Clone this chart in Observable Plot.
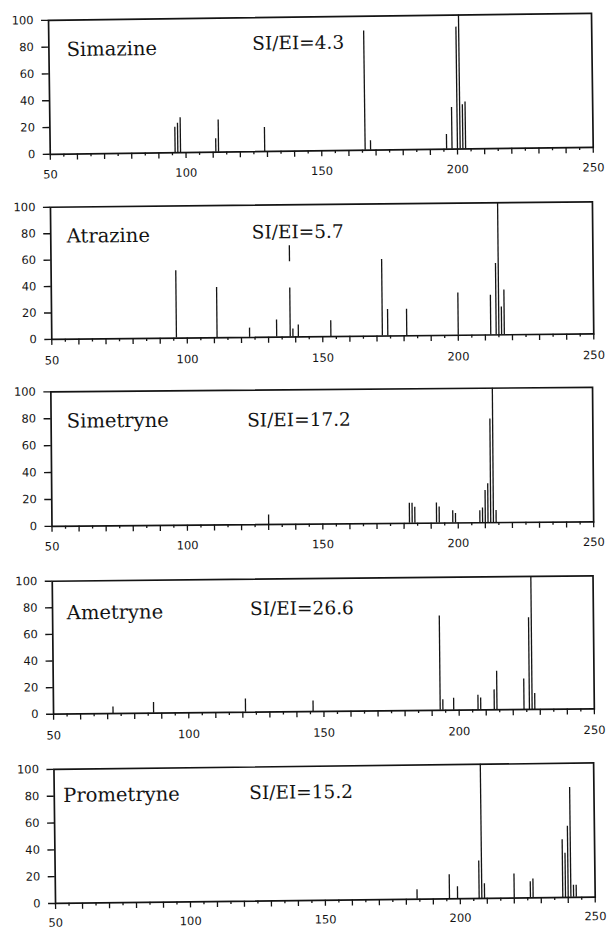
<!DOCTYPE html>
<html><head><meta charset="utf-8">
<script src="https://cdn.jsdelivr.net/npm/d3@7"></script>
<script src="https://cdn.jsdelivr.net/npm/@observablehq/plot@0.6"></script>
<style>
html,body{margin:0;padding:0;background:#fff;overflow:hidden}
#chart{width:612px;height:929px;position:relative;overflow:hidden}
#chart svg{display:block}
</style></head><body><div id="chart"></div>
<script>
// ---- data ----
const compounds = ["Simazine", "Atrazine", "Simetryne", "Ametryne", "Prometryne"];
const siEiLabels = ["SI/EI=4.3", "SI/EI=5.7", "SI/EI=17.2", "SI/EI=26.6", "SI/EI=15.2"];
const xTickLabels = [50, 100, 150, 200, 250];
const yTickLabels = [0, 20, 40, 60, 80, 100];

const simazineMz  = [96, 97, 98, 111, 112, 129, 166, 168, 196, 198, 200, 201, 202, 203];
const simazineInt = [19, 22, 26, 10, 24, 18, 89, 7, 11, 31, 91, 100, 33, 35];

const atrazineMz  = [96, 111, 123, 133, 138, 139, 141, 153, 172, 174, 181, 200, 212, 214, 215, 216, 217];
const atrazineInt = [51, 38, 7, 13, 37, 6, 9, 12, 58, 20, 20, 32, 30, 54, 100, 21, 34];
// detached segment drawn above the m/z 138 line
const atrazineSegMz = [138];
const atrazineSegLow = [57];
const atrazineSegHigh = [69];

const simetryneMz  = [130, 182, 183, 184, 192, 193, 198, 199, 208, 209, 210, 211, 212, 213, 214];
const simetryneInt = [7, 15, 15, 12, 15, 12, 9, 7, 9, 11, 24, 29, 77, 100, 9];

const ametryneMz  = [72, 87, 121, 146, 193, 194, 198, 207, 208, 213, 214, 224, 226, 227, 228];
const ametryneInt = [5, 8, 10, 8, 71, 8, 9, 11, 9, 15, 29, 23, 69, 100, 12];

const prometryneMz  = [184, 196, 199, 207, 208, 209, 220, 226, 227, 238, 239, 240, 241, 242, 243];
const prometryneInt = [7, 18, 9, 28, 100, 11, 18, 12, 14, 43, 33, 53, 82, 9, 9];

const seriesMz  = [simazineMz, atrazineMz, simetryneMz, ametryneMz, prometryneMz];
const seriesInt = [simazineInt, atrazineInt, simetryneInt, ametryneInt, prometryneInt];

// ---- layout (pixels) ----
const layout = [
  {h: 187, mt: 16.5, mb: 36.5, ml: 49.0, mr: 20.0, rot: 0.74, nameDx: 17.7, nameDy: 36.0, siDx: 203.3, siDy: 32.0, pad: 16},
  {h: 186, mt: 17.2, mb: 36.7, ml: 50.7, mr: 19.3, rot: 0.58, nameDx: 16.0, nameDy: 35.5, siDx: 201.0, siDy: 33.3, pad: 17},
  {h: 189, mt: 16.2, mb: 38.3, ml: 51.0, mr: 19.3, rot: 0.48, nameDx: 15.7, nameDy: 35.9, siDx: 196.0, siDy: 36.3, pad: 16},
  {h: 188, mt: 16.2, mb: 38.8, ml: 52.5, mr: 18.7, rot: 0.57, nameDx: 14.2, nameDy: 38.2, siDx: 197.5, siDy: 35.8, pad: 17},
  {h: 179, mt: 15.9, mb: 29.0, ml: 54.3, mr: 18.0, rot: 0.68, nameDx: 9.0,  nameDy: 32.6, siDx: 195.0, siDy: 32.0, pad: 15}
];

const majorTicks = d3.range(50, 251, 10);
const minorTicks = d3.range(55, 250, 10);
const ink = "#141414";

const chart = document.getElementById("chart");

compounds.forEach((name, i) => {
  const L = layout[i];
  const peaks = seriesMz[i].map((m, j) => ({mz: m, intensity: seriesInt[i][j]}));
  const marks = [
    Plot.ruleX(peaks, {x: "mz", y1: 0, y2: "intensity", stroke: ink, strokeWidth: 1.3}),
  ];
  if (i === 1) {
    const seg = atrazineSegMz.map((m, j) => ({mz: m, low: atrazineSegLow[j], high: atrazineSegHigh[j]}));
    marks.push(Plot.ruleX(seg, {x: "mz", y1: "low", y2: "high", stroke: ink, strokeWidth: 1.3}));
  }
  marks.push(
    Plot.frame({stroke: ink, strokeWidth: 1.7}),
    Plot.axisX({ticks: minorTicks, tickSize: 3, tickFormat: () => "", stroke: ink, strokeWidth: 1.3, label: null}),
    Plot.axisX({ticks: majorTicks, tickSize: 6, tickFormat: () => "", stroke: ink, strokeWidth: 1.3, label: null}),
    Plot.axisX({ticks: xTickLabels, tickSize: 0, tickPadding: L.pad, fill: ink, label: null}),
    Plot.axisY({ticks: yTickLabels, tickSize: 7, tickPadding: 8, stroke: ink, strokeWidth: 1.4, fill: ink, label: null}),
    Plot.text([name], {frameAnchor: "top-left", dx: L.nameDx, dy: L.nameDy, text: d => d,
      textAnchor: "start", lineAnchor: "bottom", fontSize: 19.5, fontFamily: "DejaVu Serif", fill: ink}),
    Plot.text([siEiLabels[i]], {frameAnchor: "top-left", dx: L.siDx, dy: L.siDy, text: d => d,
      textAnchor: "start", lineAnchor: "bottom", fontSize: 18.5, fontFamily: "DejaVu Serif", fill: ink})
  );
  const svg = Plot.plot({
    width: 612,
    height: L.h,
    marginTop: L.mt, marginBottom: L.mb, marginLeft: L.ml, marginRight: L.mr,
    x: {domain: [50, 250], label: null},
    y: {domain: [0, 100], label: null},
    style: {fontFamily: "DejaVu Sans", fontSize: "11.5px", background: "white", color: ink, overflow: "visible"},
    marks
  });
  svg.style.transformOrigin = `306px ${L.h / 2}px`;
  svg.style.transform = `rotate(-${L.rot}deg)`;
  chart.appendChild(svg);
});
</script></body></html>
